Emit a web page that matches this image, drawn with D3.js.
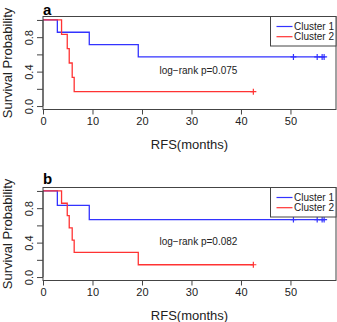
<!DOCTYPE html>
<html><head><meta charset="utf-8">
<script src="https://cdn.jsdelivr.net/npm/d3@7"></script>
<style>body{margin:0;background:#fff}svg{display:block}text{font-family:"Liberation Sans",Arial,sans-serif}</style>
</head><body>
<svg id="c" width="337" height="322"></svg>
<script>
// ---- data ----
const xTicks = [0, 10, 20, 30, 40, 50];
const yTicks = [0, 0.2, 0.4, 0.6, 0.8, 1.0];
const yTickLabels = ["0.0", "", "0.4", "", "0.8", ""];
const seriesNames = ["Cluster 1", "Cluster 2"];
const panelLabels = ["a", "b"];
const pValues = ["log\u2212rank p=0.075", "log\u2212rank p=0.082"];

// panel a
const aC1Times = [0, 2.9, 9.35, 19.25, 57.0];
const aC1Surv  = [1, 0.857, 0.714, 0.571, 0.571];
const aC1Cens  = [50.6, 55.4, 56.4, 56.8];
const aC2Times = [0, 3.75, 4.9, 5.3, 5.9, 6.3, 42.5];
const aC2Surv  = [1, 0.833, 0.667, 0.5, 0.333, 0.167, 0.167];
const aC2Cens  = [42.5];
// panel b
const bC1Times = [0, 2.9, 9.35, 57.0];
const bC1Surv  = [1, 0.833, 0.667, 0.667];
const bC1Cens  = [50.6, 55.4, 56.4, 56.8];
const bC2Times = [0, 3.75, 4.9, 5.3, 5.9, 6.3, 19.25, 42.5];
const bC2Surv  = [1, 0.857, 0.714, 0.571, 0.429, 0.286, 0.143, 0.143];
const bC2Cens  = [42.5];

const colors = ["#3333ff", "#ff3333"];
const svg = d3.select("#c");

function panel(top, label, labelY, pText, curves) {
  const boxTop = top, boxBot = top + 93;
  const x = d3.scaleLinear().domain([0, 59.2]).range([43, 336]);
  const y = d3.scaleLinear().domain([-0.04, 1.04]).range([boxBot, boxTop]);
  const g = svg.append("g");

  // curves
  curves.forEach((c, i) => {
    const pts = c.t.map((t, k) => [t, c.s[k]]);
    g.append("path").datum(pts)
      .attr("d", d3.line().x(d => x(d[0])).y(d => y(d[1])).curve(d3.curveStepAfter))
      .attr("fill", "none").attr("stroke", colors[i]).attr("stroke-width", 1.3);
    const last = c.s[c.s.length - 1];
    c.c.forEach(ct => {
      g.append("path")
        .attr("d", `M${x(ct) - 3},${y(last)}H${x(ct) + 3}M${x(ct)},${y(last) - 3}V${y(last) + 3}`)
        .attr("stroke", colors[i]).attr("stroke-width", 1.2);
    });
  });

  // box
  g.append("rect").attr("x", 43).attr("y", boxTop).attr("width", 336 - 43).attr("height", boxBot - boxTop)
    .attr("fill", "none").attr("stroke", "#444").attr("stroke-width", 1);

  // x axis
  const xa = g.append("g").attr("transform", `translate(0,${boxBot})`)
    .call(d3.axisBottom(x).tickValues(xTicks).tickSize(5).tickPadding(3).tickFormat(d3.format("d")));
  xa.select(".domain").attr("d", `M${x(0)},0H${x(50)}`).attr("stroke", "#444");
  xa.selectAll("line").attr("stroke", "#444");
  xa.selectAll("text").attr("font-size", 11).attr("fill", "#222")
    .attr("font-family", '"Liberation Sans",Arial,sans-serif');

  // y axis
  const ya = g.append("g").attr("transform", `translate(43,0)`)
    .call(d3.axisLeft(y).tickValues(yTicks).tickSize(6).tickFormat((d, i) => yTickLabels[i]));
  ya.select(".domain").attr("d", `M0,${y(0)}V${y(1)}`).attr("stroke", "#444");
  ya.selectAll("line").attr("stroke", "#444");
  ya.selectAll("text").attr("font-size", 11).attr("fill", "#222")
    .attr("font-family", '"Liberation Sans",Arial,sans-serif')
    .attr("text-anchor", "middle").attr("dy", 0)
    .attr("transform", function () {
      const yy = +d3.select(this.parentNode).attr("transform").match(/,([\d.\-]+)/)[1];
      return null;
    })
    .each(function () {
      d3.select(this).attr("x", null).attr("transform", "translate(-10,0) rotate(-90)").attr("y", 0);
    });

  // axis titles
  g.append("text").attr("x", (43 + 336) / 2).attr("y", boxBot + 39).attr("text-anchor", "middle")
    .attr("font-size", 13).attr("fill", "#222").text("RFS(months)");
  g.append("text").attr("transform", `translate(12,${(boxTop + boxBot) / 2}) rotate(-90)`)
    .attr("text-anchor", "middle").attr("font-size", 13).attr("fill", "#222").text("Survival Probability");

  // panel label
  g.append("text").attr("x", 43).attr("y", labelY).attr("font-size", 15).attr("font-weight", "bold")
    .attr("fill", "#000").text(label);

  // p-value
  g.append("text").attr("x", 159.5).attr("y", boxTop + 57.5).attr("font-size", 10).attr("fill", "#222").text(pText);

  // legend
  const lg = g.append("g");
  lg.append("rect").attr("x", 270.5).attr("y", boxTop).attr("width", 65.5).attr("height", 29.5)
    .attr("fill", "#fff").attr("stroke", "#444");
  seriesNames.forEach((n, i) => {
    const ly = boxTop + 10 + i * 10.2;
    lg.append("line").attr("x1", 276.5).attr("x2", 292.5).attr("y1", ly).attr("y2", ly)
      .attr("stroke", colors[i]).attr("stroke-width", 1.2);
    lg.append("text").attr("x", 294).attr("y", ly + 3.6).attr("font-size", 10).attr("fill", "#222").text(n);
  });
}

panel(16.5, panelLabels[0], 15, pValues[0], [
  {t: aC1Times, s: aC1Surv, c: aC1Cens},
  {t: aC2Times, s: aC2Surv, c: aC2Cens}
]);
panel(187.5, panelLabels[1], 183.5, pValues[1], [
  {t: bC1Times, s: bC1Surv, c: bC1Cens},
  {t: bC2Times, s: bC2Surv, c: bC2Cens}
]);
</script>
</body></html>
